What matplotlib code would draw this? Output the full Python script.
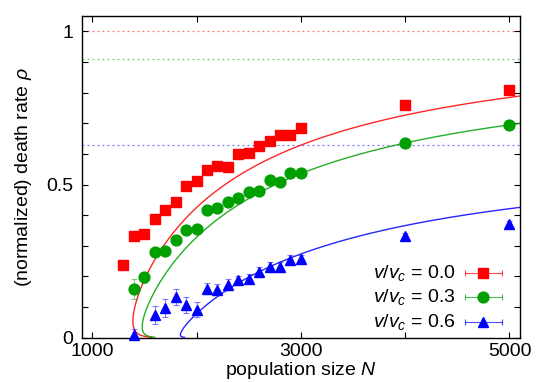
import numpy as np
import matplotlib
matplotlib.use("Agg")
import matplotlib.pyplot as plt

plt.rcParams["font.family"] = ["Liberation Sans", "DejaVu Sans"]
plt.rcParams["mathtext.fontset"] = "custom"
plt.rcParams["mathtext.rm"] = "Liberation Sans"
plt.rcParams["mathtext.it"] = "Liberation Sans:italic"

# --- measured death rates ---
n_red = [1300, 1400, 1500, 1600, 1700, 1800, 1900, 2000, 2100, 2200, 2300,
         2400, 2500, 2600, 2700, 2800, 2900, 3000, 4000, 5000]
rho_red = [0.236, 0.333, 0.337, 0.386, 0.418, 0.442, 0.495, 0.511, 0.549, 0.562,
           0.558, 0.599, 0.602, 0.625, 0.643, 0.661, 0.661, 0.683, 0.760, 0.809]
err_red = [0.012, 0.008, 0.008, 0.008, 0.008, 0.008, 0.008, 0.008, 0.008, 0.008,
           0.008, 0.008, 0.008, 0.008, 0.008, 0.008, 0.008, 0.008, 0.006, 0.006]

n_green = [1400, 1500, 1600, 1700, 1800, 1900, 2000, 2100, 2200, 2300, 2400,
           2500, 2600, 2700, 2800, 2900, 3000, 4000, 5000]
rho_green = [0.159, 0.197, 0.279, 0.282, 0.320, 0.353, 0.355, 0.416, 0.422, 0.442,
             0.455, 0.475, 0.480, 0.514, 0.508, 0.536, 0.538, 0.637, 0.694]
err_green = [0.034, 0.018, 0.012, 0.012, 0.010, 0.008, 0.008, 0.008, 0.008, 0.008,
             0.008, 0.008, 0.008, 0.008, 0.008, 0.008, 0.008, 0.006, 0.006]

n_blue = [1400, 1600, 1700, 1800, 1900, 2000, 2100, 2200, 2300, 2400, 2500,
          2600, 2700, 2800, 2900, 3000, 4000, 5000]
rho_blue = [0.008, 0.075, 0.097, 0.133, 0.106, 0.092, 0.159, 0.157, 0.173, 0.187,
            0.192, 0.215, 0.231, 0.231, 0.255, 0.257, 0.331, 0.371]
err_blue = [0.02, 0.029, 0.030, 0.027, 0.026, 0.025, 0.018, 0.018, 0.018, 0.016,
            0.016, 0.015, 0.015, 0.015, 0.014, 0.014, 0.010, 0.010]

# --- fit curves N = a/(1-x) - b ln x, x = rho/rho_inf ---
fit_rho_inf = [1.014, 0.930, 0.640]
fit_a = [1128, 1260, 1706]
fit_b = [67.8, 51.9, 27.1]
asymptotes = [1.0, 0.91, 0.628]

labels = ["0.0", "0.3", "0.6"]
colors = ["#ff0000", "#00a000", "#0000ff"]
markers = ["s", "o", "^"]
msizes = [7.5, 7.8, 7.5]

fig = plt.figure(figsize=(5.45, 3.82), dpi=100)
ax = fig.add_axes([0.150, 0.116, 0.804, 0.842])

series = [(n_red, rho_red, err_red), (n_green, rho_green, err_green),
          (n_blue, rho_blue, err_blue)]

for i, (n, rho, err) in enumerate(series):
    c = colors[i]
    ax.axhline(asymptotes[i], color=c, lw=0.9, ls=(0, (1.5, 2.5)), alpha=0.55, zorder=1)
    x = np.concatenate([np.geomspace(1.5e-3, 0.01, 200), np.linspace(0.01, 0.995, 3000)])
    n_fit = fit_a[i] / (1 - x) - fit_b[i] * np.log(x)
    ax.plot(n_fit, x * fit_rho_inf[i], color=c, lw=1.0, alpha=0.85, zorder=2)
    ax.errorbar(n, rho, yerr=err, fmt="none", ecolor=c, elinewidth=0.8,
                capsize=2.5, capthick=0.8, alpha=0.5, zorder=3)
    ax.plot(n, rho, ls="none", marker=markers[i], ms=msizes[i], color=c,
            mec=c, zorder=4, clip_on=False)

ax.set_xlim(900, 5100)
ax.set_ylim(0, 1.05)
ax.set_xticks([1000, 2000, 3000, 4000, 5000])
ax.set_xticklabels(["1000", "", "3000", "", "5000"])
ax.set_yticks(np.arange(0, 1.01, 0.1))
ax.set_yticklabels(["0", "", "", "", "", "0.5", "", "", "", "", "1"])
ax.tick_params(direction="in", top=True, right=True, length=4, width=0.8,
               labelsize=14)
ax.tick_params(axis="x", pad=4)
ax.tick_params(axis="y", pad=6)
for s in ax.spines.values():
    s.set_linewidth(1.0)

ax.set_xlabel("population size $N$", fontsize=14, labelpad=0)
ax.set_ylabel(r"(normalized) death rate $\rho$", fontsize=14, labelpad=9)

# legend drawn gnuplot style: text, then sample with error bar ends
for i in range(3):
    y = 0.202 - 0.0765 * i
    ax.text(0.853, y, f"$v/v_c$ = {labels[i]}", transform=ax.transAxes,
            ha="right", va="center", fontsize=14)
    ax.plot([0.874, 0.958], [y, y], transform=ax.transAxes, color=colors[i],
            lw=0.8, alpha=0.7, clip_on=False)
    ax.plot([0.874, 0.958], [y, y], transform=ax.transAxes, ls="none",
            marker="|", ms=5, mew=0.8, color=colors[i], alpha=0.7, clip_on=False)
    ax.plot([0.916], [y], transform=ax.transAxes, ls="none", marker=markers[i],
            ms=msizes[i], color=colors[i], clip_on=False)

fig.savefig("out.png", dpi=100)
